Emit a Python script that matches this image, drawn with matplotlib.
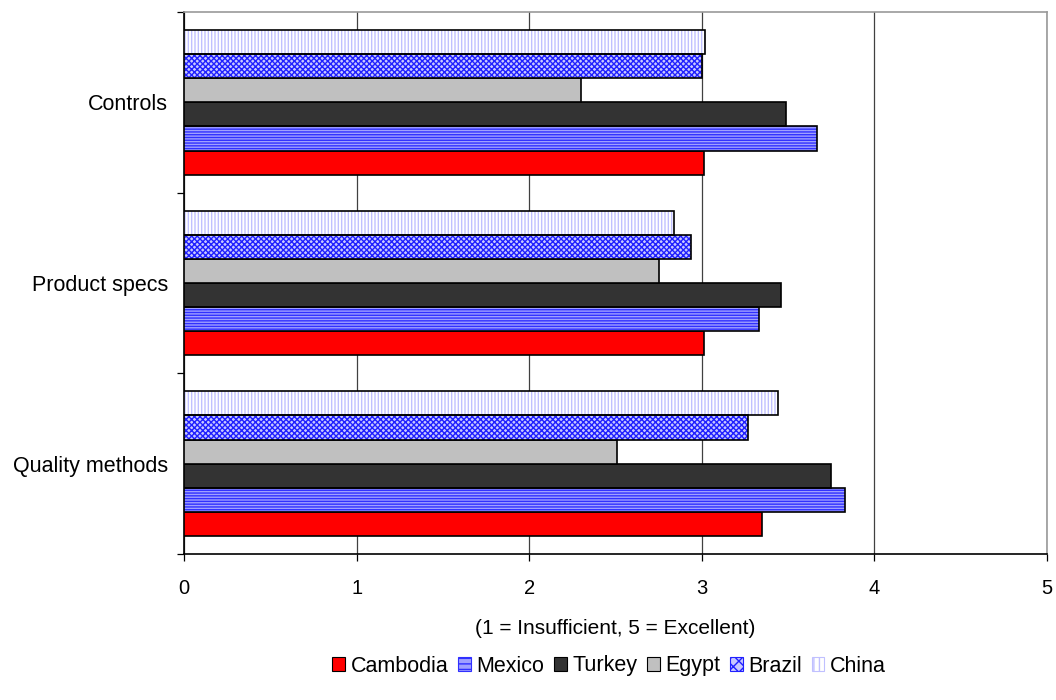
import numpy as np
import matplotlib.pyplot as plt
from matplotlib.patches import Patch

plt.rcParams['font.family'] = ['Liberation Sans', 'DejaVu Sans']

categories = ['Quality methods', 'Product specs', 'Controls']
countries = ['Cambodia', 'Mexico', 'Turkey', 'Egypt', 'Brazil', 'China']
cambodia = [3.35, 3.01, 3.01]
mexico = [3.83, 3.33, 3.67]
turkey = [3.75, 3.46, 3.49]
egypt = [2.51, 2.75, 2.30]
brazil = [3.27, 2.94, 3.00]
china = [3.44, 2.84, 3.02]
series = [cambodia, mexico, turkey, egypt, brazil, china]

# face colour, hatch, hatch colour
styles = [
    ('#ff0000', None, None),
    ('#a0a0ff', '------', '#3030ff'),
    ('#333333', None, None),
    ('#c0c0c0', None, None),
    ('#c8c8ff', 'xxxxxx', '#2020ff'),
    ('#ffffff', '|||||', '#c0c0ff'),
]

fig = plt.figure(figsize=(10.56, 7), dpi=100)
ax = fig.add_axes([184 / 1056, 1 - 554 / 700, (1047 - 184) / 1056, (554 - 12) / 700])

y = np.arange(len(categories))
n = len(series)
h = 0.8 / n
for i, (vals, (fc, hatch, hc)) in enumerate(zip(series, styles)):
    pos = y - 0.4 + h * (i + 0.5)
    if hatch:
        ax.barh(pos, vals, height=h, color=fc, hatch=hatch, edgecolor=hc, linewidth=0, zorder=3)
        ax.barh(pos, vals, height=h, fill=False, edgecolor='black', linewidth=1.2, zorder=4)
    else:
        ax.barh(pos, vals, height=h, color=fc, edgecolor='black', linewidth=1.2, zorder=3)

ax.set_xlim(0, 5)
ax.set_ylim(-0.5, 2.5)
ax.set_xticks(range(6))
ax.xaxis.grid(True, color='#404040', linewidth=0.9, zorder=0)
ax.set_yticks(y)
ax.set_yticklabels(categories)
ax.set_yticks([-0.5, 0.5, 1.5, 2.5], minor=True)
ax.tick_params(axis='y', which='major', length=0, pad=11.5, labelsize=15.5)
ax.tick_params(axis='y', which='minor', length=5, width=0.9)
ax.tick_params(axis='x', length=5, width=0.9, pad=13, labelsize=14.5)
for s in ['top', 'right']:
    ax.spines[s].set_color('#999999')
    ax.spines[s].set_linewidth(1.2)
for s in ['left', 'bottom']:
    ax.spines[s].set_color('black')
    ax.spines[s].set_linewidth(1.2)

fig.text(615.5 / 1056, 1 - 628 / 700, '(1 = Insufficient, 5 = Excellent)', ha='center', va='center', fontsize=15)

handles = []
for name, (fc, hatch, hc) in zip(countries, styles):
    if hatch:
        handles.append(Patch(facecolor=fc, hatch=hatch[:3], edgecolor=hc, linewidth=0.8, label=name))
    else:
        handles.append(Patch(facecolor=fc, edgecolor='black', linewidth=0.8, label=name))
fig.legend(handles=handles, loc='center', bbox_to_anchor=(609 / 1056, 1 - 666 / 700), ncol=6,
           frameon=False, fontsize=15.5, handlelength=0.6, handleheight=0.6,
           handletextpad=0.25, columnspacing=0.45)

fig.savefig('out.png', dpi=100)
